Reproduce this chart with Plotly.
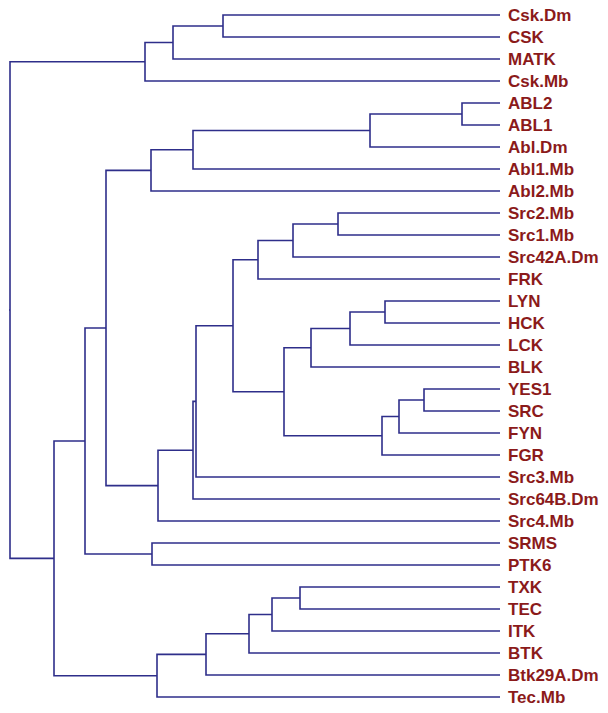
import plotly.graph_objects as go

# Leaf order (top to bottom)
leaves = ["Csk.Dm", "CSK", "MATK", "Csk.Mb", "ABL2", "ABL1", "Abl.Dm", "Abl1.Mb",
          "Abl2.Mb", "Src2.Mb", "Src1.Mb", "Src42A.Dm", "FRK", "LYN", "HCK", "LCK",
          "BLK", "YES1", "SRC", "FYN", "FGR", "Src3.Mb", "Src64B.Dm", "Src4.Mb",
          "SRMS", "PTK6", "TXK", "TEC", "ITK", "BTK", "Btk29A.Dm", "Tec.Mb"]

# Merges: (child A, child B, height); node names n1..n31
merge_a = ["Csk.Dm", "n1", "n2", "ABL2", "n4", "n5", "n6", "Src2.Mb", "n8", "n9",
           "LYN", "n11", "n12", "YES1", "n14", "n15", "n13", "n10", "n18", "n19",
           "n20", "n7", "SRMS", "n22", "TXK", "n25", "n26", "n27", "n28", "n24", "n3"]
merge_b = ["CSK", "MATK", "Csk.Mb", "ABL1", "Abl.Dm", "Abl1.Mb", "Abl2.Mb", "Src1.Mb",
           "Src42A.Dm", "FRK", "HCK", "LCK", "BLK", "SRC", "FYN", "FGR", "n16", "n17",
           "Src3.Mb", "Src64B.Dm", "Src4.Mb", "n21", "PTK6", "n23", "TEC", "ITK", "BTK",
           "Btk29A.Dm", "Tec.Mb", "n29", "n30"]
merge_h = [2.77, 3.27, 3.55, 0.38, 1.30, 3.07, 3.49, 1.62, 2.07, 2.42,
           1.15, 1.50, 1.89, 0.76, 1.01, 1.18, 2.16, 2.67, 3.04, 3.07,
           3.42, 3.94, 3.48, 4.15, 2.00, 2.28, 2.51, 2.94, 3.43, 4.46, 4.90]

LINE_COLOR = "#2e2e8a"
LABEL_COLOR = "#8b1a1a"

pos = {name: (0.0, float(i)) for i, name in enumerate(leaves)}
xs, ys = [], []
for k, (a, b, h) in enumerate(zip(merge_a, merge_b, merge_h)):
    xa, ya = pos[a]
    xb, yb = pos[b]
    xs += [xa, h, h, xb, None]
    ys += [ya, ya, yb, yb, None]
    pos["n%d" % (k + 1)] = (h, (ya + yb) / 2)

root_x, root_y = pos["n%d" % len(merge_h)]
xs += [root_x, root_x + 0.01, None]
ys += [root_y, root_y, None]

fig = go.Figure()
fig.add_trace(go.Scatter(x=xs, y=ys, mode="lines",
                         line=dict(color=LINE_COLOR, width=1.6),
                         hoverinfo="skip", showlegend=False))

for i, name in enumerate(leaves):
    fig.add_annotation(x=0, y=i, text="<b>%s</b>" % name, showarrow=False,
                       xanchor="left", yanchor="middle", xshift=6,
                       font=dict(family="Liberation Sans, Arial, sans-serif",
                                 size=17, color=LABEL_COLOR))

fig.update_layout(
    width=600, height=705,
    margin=dict(l=0, r=0, t=0, b=0),
    paper_bgcolor="white", plot_bgcolor="white",
    xaxis=dict(range=[4.92, -1.08], visible=False, showgrid=False, zeroline=False),
    yaxis=dict(range=[31.727, -0.318], visible=False, showgrid=False, zeroline=False),
)

fig.write_html("out.html")
